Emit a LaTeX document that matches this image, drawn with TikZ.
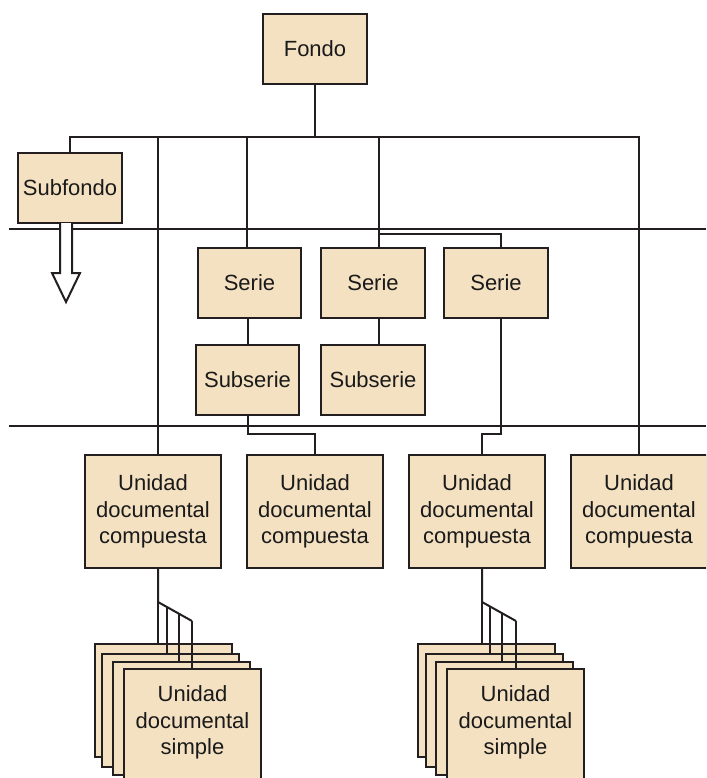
\documentclass[tikz,border=0pt]{standalone}
\usepackage{fontspec}
\setmainfont{Liberation Sans}
\definecolor{beige}{HTML}{F4E1C2}
\definecolor{edge}{HTML}{231F20}
\definecolor{ink}{HTML}{1A1A1A}
\tikzset{
  box/.style={draw=edge, fill=beige, line width=2.2pt, inner sep=0pt, outer sep=0pt,
    align=center, text=ink, font=\fontsize{22}{26.5}\selectfont},
  small/.style={box, minimum width=104pt, minimum height=70pt},
  unit/.style={box, minimum width=136pt, minimum height=113pt},
  sheet/.style={box, minimum width=137pt, minimum height=113pt},
  sheettext/.style={align=center, text=ink, inner sep=0pt, font=\fontsize{22}{26.5}\selectfont},
  conn/.style={draw=edge, line width=2pt},
  band/.style={draw=edge, line width=2pt},
}
\begin{document}
\begin{tikzpicture}[x=1pt, y=-1pt]
\useasboundingbox (0,0) rectangle (706,778);
\clip (0,0) rectangle (706,778);

% level separators
\coordinate (bandAL) at (9,229);  \coordinate (bandAR) at (706,229);
\coordinate (bandBL) at (9,426);  \coordinate (bandBR) at (706,426);
\draw[band] (bandAL) -- (bandAR);
\draw[band] (bandBL) -- (bandBR);

% routing helpers
\coordinate (bus)  at (315,137);
\coordinate (sbus) at (0,234);
\coordinate (lane) at (0,434);

% boxes
\node[small] (fondo)    at (315,49)    {Fondo};
\node[small] (subfondo) at (70,188)    {Subfondo};
\node[small, minimum width=103pt] (serie1) at (249.5,283) {Serie};
\node[small] (serie2)   at (373,283)   {Serie};
\node[small] (serie3)   at (496,283)   {Serie};
\node[small, minimum width=103pt] (subserie1) at (247.5,380) {Subserie};
\node[small] (subserie2) at (373,380)  {Subserie};
\node[unit] (udc1) at (153,511.5) {Unidad\\documental\\compuesta};
\node[unit] (udc2) at (315,511.5) {Unidad\\documental\\compuesta};
\node[unit] (udc3) at (477,511.5) {Unidad\\documental\\compuesta};
\node[unit] (udc4) at (639,511.5) {Unidad\\documental\\compuesta};

% stacked simple units, back to front
\node[sheet] (sa1) at (163.5,700.5) {};
\node[sheet] (sb1) at (170.5,710.5) {};
\node[sheet] (sc1) at (181.5,718.5) {};
\node[sheet] (sd1) at (192.5,725.5) {};
\node[sheettext] (sd1text) at ([yshift=3pt]sd1.center) {Unidad\\documental\\simple};
\node[sheet] (sa2) at (486.5,700.5) {};
\node[sheet] (sb2) at (494.5,710.5) {};
\node[sheet] (sc2) at (504.5,718.5) {};
\node[sheet] (sd2) at (515.5,725.5) {};
\node[sheettext] (sd2text) at ([yshift=3pt]sd2.center) {Unidad\\documental\\simple};

% tap points
\coordinate (t1)  at ([xshift=5pt]udc1.north);
\coordinate (ts1) at ([xshift=-2.5pt]serie1.north);
\coordinate (ts2) at ([xshift=6pt]serie2.north);
\coordinate (ts3) at ([xshift=5pt]serie3.north);
\coordinate (tss2) at ([xshift=6pt]subserie2.north);
\coordinate (tu3) at ([xshift=5pt]udc3.north);

% Fondo and its main bus
\draw[conn] (fondo.south) -- (bus);
\draw[conn] (subfondo.north) |- (bus) -| (udc4.north);
\draw[conn] (t1 |- bus) -- (t1);
\draw[conn] (ts1 |- bus) -- (ts1);
\draw[conn] (ts2 |- bus) -- (ts2);
\draw[conn] (ts2 |- sbus) -| (ts3);

% series to subseries
\draw[conn] (subserie1.north |- serie1.south) -- (subserie1.north);
\draw[conn] (tss2 |- serie2.south) -- (tss2);

% down to the composite units
\draw[conn] (subserie1.south) |- (udc2.north |- lane) -- (udc2.north);
\draw[conn] (ts3 |- serie3.south) |- (tu3 |- lane) -- (tu3);

% Subfondo continues below
\coordinate (arrA) at ([xshift=-4pt]subfondo.south);
\draw[draw=edge, fill=white, line width=2pt, line join=miter]
  ([xshift=-6pt]arrA) -- ++(0,50) -- ++(-8,0) -- ([yshift=-79pt]arrA)
  -- ([xshift=14pt, yshift=-50pt]arrA) -- ++(-8,0) -- ([xshift=6pt]arrA);

% fan-out to the simple units (left stack)
\coordinate (ka1) at (158,602);
\coordinate (kb1) at (167,607.2);
\coordinate (kc1) at (179,614.1);
\coordinate (kd1) at (192,621);
\draw[conn] (ka1 |- udc1.south) -- (ka1) -- (kd1);
\draw[conn] (ka1) -- (ka1 |- sa1.north);
\draw[conn] (kb1) -- (kb1 |- sb1.north);
\draw[conn] (kc1) -- (kc1 |- sc1.north);
\draw[conn] (kd1) -- (kd1 |- sd1.north);

% fan-out to the simple units (right stack)
\coordinate (ka2) at (482,602);
\coordinate (kb2) at (490,606.5);
\coordinate (kc2) at (502,613.2);
\coordinate (kd2) at (516,621);
\draw[conn] (ka2 |- udc3.south) -- (ka2) -- (kd2);
\draw[conn] (ka2) -- (ka2 |- sa2.north);
\draw[conn] (kb2) -- (kb2 |- sb2.north);
\draw[conn] (kc2) -- (kc2 |- sc2.north);
\draw[conn] (kd2) -- (kd2 |- sd2.north);
\end{tikzpicture}
\end{document}
